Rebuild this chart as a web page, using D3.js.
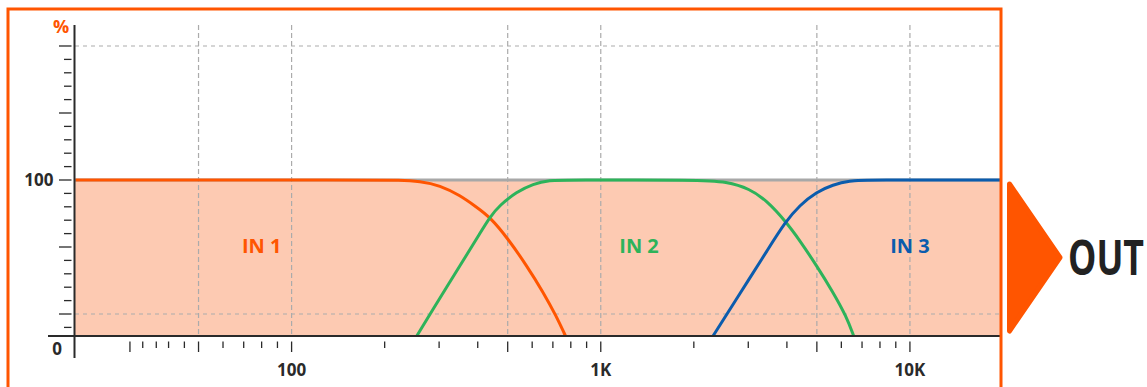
<!DOCTYPE html>
<html>
<head>
<meta charset="utf-8">
<script src="https://cdn.jsdelivr.net/npm/d3@7"></script>
<style>
  html, body { margin: 0; padding: 0; background: #fff; }
  svg { display: block; font-family: "Open Sans", "DejaVu Sans", sans-serif; }
</style>
</head>
<body>
<svg id="chart" width="1147" height="387"></svg>
<script>
// ---------- data ----------
const xTickValues = [30, 33, 36.5, 40, 45, 50, 60, 70, 80, 90, 100, 200, 300, 400, 500, 600, 700, 800, 900, 1000, 2000, 3000, 4000, 5000, 6000, 7000, 8000, 9000, 10000];
const xMajorTicks = [30, 50, 100, 500, 1000, 5000, 10000];
const xGridValues = [50, 100, 500, 1000, 5000, 10000];
const xLabelValues = [100, 1000, 10000];
const xLabelTexts = ["100", "1K", "10K"];

const yTickStep = 8.59;              // percent between small ticks
const yTickIndex = d3.range(-10, 12); // tick index below 100%
const yMajorEvery = 5;
const yGridIndex = [-10, 10];

const in1Freq = [20, 180, 224, 260, 302, 350, 396, 438, 501, 575, 651, 719, 769];
const in1Pct  = [100, 100, 100, 99.2, 96.6, 90.2, 82.7, 76.3, 62.4, 45.3, 28.2, 12.5, 0];

const in2Freq = [254, 287, 325, 368, 406, 438, 471, 534, 604, 684, 774, 2090, 2550, 3032, 3434, 3964, 4400, 4982, 5637, 6230, 6578];
const in2Pct  = [0, 17.3, 34.6, 51.9, 65.6, 76.3, 83.8, 92.3, 97.6, 99.8, 100, 100, 98.9, 94.4, 86.9, 73.5, 61.3, 45.3, 28.2, 12.5, 0];

const in3Freq = [2307, 2550, 3032, 3434, 3964, 4400, 4982, 5637, 6383, 7228, 20000];
const in3Pct  = [0, 13.5, 37.1, 54, 73.5, 83.8, 92.3, 97.0, 99.6, 100, 100];

const seriesNames = ["IN 1", "IN 2", "IN 3"];
const seriesLabelFreq = [80, 1330, 10000];
const seriesLabelPct = [53, 53, 53];

// ---------- styles ----------
const ORANGE = "#FF5500", GREEN = "#2DB35A", BLUE = "#0B5CAD";
const FILL = "#FDCAB2", DARK = "#2a2a2a", GRID = "#ababab";
const seriesColors = [ORANGE, GREEN, BLUE];

const svg = d3.select("#chart");

const x = d3.scaleLog().domain([20, 20000]).range([75.5, 1003]);
const y = d3.scaleLinear().domain([0, 100]).range([336, 180]);
const plotLeft = 75, plotRight = 1000;

svg.append("defs").append("clipPath").attr("id", "clip")
  .append("rect").attr("x", plotLeft).attr("y", 0).attr("width", plotRight - plotLeft).attr("height", 340);

// fill area under 100%
svg.append("rect")
  .attr("x", plotLeft).attr("y", y(100))
  .attr("width", plotRight - plotLeft).attr("height", y(0) - y(100))
  .attr("fill", FILL);

// vertical grid
svg.append("g").selectAll("line").data(xGridValues).join("line")
  .attr("x1", d => x(d)).attr("x2", d => x(d))
  .attr("y1", 25).attr("y2", y(0))
  .attr("stroke", GRID).attr("stroke-width", 1.2).attr("stroke-dasharray", "5,3");

// horizontal grid
svg.append("g").selectAll("line").data(yGridIndex).join("line")
  .attr("x1", plotLeft).attr("x2", plotRight)
  .attr("y1", d => y(100 - d * yTickStep)).attr("y2", d => y(100 - d * yTickStep))
  .attr("stroke", GRID).attr("stroke-width", 1.2).attr("stroke-dasharray", "4,4");

// gray 100 line
svg.append("line")
  .attr("x1", plotLeft).attr("x2", plotRight)
  .attr("y1", y(100)).attr("y2", y(100))
  .attr("stroke", "#a8a8a8").attr("stroke-width", 3);

// series lines
const line = d3.line().x(d => x(d[0])).y(d => y(d[1])).curve(d3.curveBasis);
const series = [
  d3.zip(in1Freq, in1Pct),
  d3.zip(in2Freq, in2Pct),
  d3.zip(in3Freq, in3Pct)
];
svg.append("g").attr("clip-path", "url(#clip)")
  .selectAll("path").data(series).join("path")
  .attr("d", line)
  .attr("fill", "none")
  .attr("stroke", (d, i) => seriesColors[i])
  .attr("stroke-width", 3);

// series labels
svg.append("g").selectAll("text").data(seriesNames).join("text")
  .attr("x", (d, i) => x(seriesLabelFreq[i]))
  .attr("y", (d, i) => y(seriesLabelPct[i]))
  .attr("text-anchor", "middle")
  .attr("font-size", 20).attr("font-weight", 700)
  .attr("fill", (d, i) => seriesColors[i])
  .text(d => d);

// axis lines
svg.append("line").attr("x1", 74.5).attr("x2", 74.5).attr("y1", 25).attr("y2", 358)
  .attr("stroke", DARK).attr("stroke-width", 2);
svg.append("line").attr("x1", 48).attr("x2", plotRight).attr("y1", y(0)).attr("y2", y(0))
  .attr("stroke", DARK).attr("stroke-width", 2);

// y ticks
svg.append("g").selectAll("line").data(yTickIndex).join("line")
  .attr("x1", d => d % yMajorEvery === 0 ? 59 : 64)
  .attr("x2", 71.5)
  .attr("y1", d => y(100 - d * yTickStep)).attr("y2", d => y(100 - d * yTickStep))
  .attr("stroke", DARK).attr("stroke-width", 1.3);

// x ticks
svg.append("g").selectAll("line").data(xTickValues).join("line")
  .attr("x1", d => x(d)).attr("x2", d => x(d))
  .attr("y1", 341.5)
  .attr("y2", d => xMajorTicks.includes(d) ? 352 : 348)
  .attr("stroke", DARK).attr("stroke-width", 1.3);

// x labels
svg.append("g").selectAll("text").data(xLabelValues).join("text")
  .attr("x", d => x(d)).attr("y", 376)
  .attr("text-anchor", "middle")
  .attr("font-size", 17).attr("font-weight", 700).attr("fill", DARK)
  .text((d, i) => xLabelTexts[i]);

// y labels
svg.append("text").attr("x", 53.5).attr("y", y(100) + 6)
  .attr("text-anchor", "end").attr("font-size", 17).attr("font-weight", 700).attr("fill", DARK)
  .text("100");
svg.append("text").attr("x", 57).attr("y", 355)
  .attr("text-anchor", "middle").attr("font-size", 17).attr("font-weight", 700).attr("fill", DARK)
  .text("0");
svg.append("text").attr("x", 61).attr("y", 33)
  .attr("text-anchor", "middle").attr("font-size", 18).attr("font-weight", 700).attr("fill", ORANGE)
  .text("%");

// orange frame
svg.append("rect").attr("x", 8).attr("y", 9).attr("width", 993).attr("height", 420)
  .attr("fill", "none").attr("stroke", ORANGE).attr("stroke-width", 3);

// OUT arrow
svg.append("path")
  .attr("d", "M1009.5,184 L1060,257.5 L1009.5,331 Z")
  .attr("fill", ORANGE).attr("stroke", ORANGE).attr("stroke-width", 5).attr("stroke-linejoin", "round");
svg.append("text").attr("x", 1068).attr("y", 275)
  .attr("font-size", 48).attr("font-weight", 700).attr("fill", "#222")
  .attr("textLength", 76).attr("lengthAdjust", "spacingAndGlyphs")
  .text("OUT");
</script>
</body>
</html>
